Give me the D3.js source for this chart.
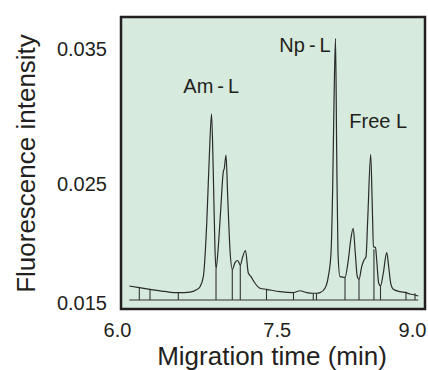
<!DOCTYPE html>
<html>
<head>
<meta charset="utf-8">
<script src="https://cdn.jsdelivr.net/npm/d3@7"></script>
<style>
body { margin: 0; background: #fff; }
svg text { font-family: "Liberation Sans", Arial, Helvetica, sans-serif; }
</style>
</head>
<body>
<svg id="chart" width="428" height="370"></svg>
<script>
// electropherogram trace (time in min, fluorescence intensity)
var times = [6.1155, 6.2095, 6.310, 6.451, 6.576, 6.686, 6.742, 6.780, 6.811, 6.843,
    6.867, 6.888, 6.9045, 6.9205, 6.930, 6.9515, 6.974, 6.9985, 7.0079, 7.0238,
    7.0398, 7.0614, 7.0830, 7.1084, 7.1337, 7.1581, 7.1807, 7.2070, 7.2333, 7.2587,
    7.2962, 7.3432, 7.4042, 7.5366, 7.6862, 7.7250, 7.7583, 7.8326, 7.9057, 7.9412,
    7.9800, 8.0355, 8.0720, 8.1020, 8.1208, 8.1352, 8.1519, 8.1652, 8.1796, 8.2017,
    8.2572, 8.2938, 8.3204, 8.3481, 8.3714, 8.3935, 8.4124, 8.4423, 8.4678, 8.4900,
    8.5088, 8.5421, 8.5598, 8.5731, 8.5953, 8.6086, 8.6308, 8.6507, 8.6818, 8.7195,
    8.7416, 8.7638, 8.7926, 8.8669, 8.9334, 8.9778, 9.0332, 9.0698];
var intensity = [0.01643, 0.01629, 0.01615, 0.01597, 0.01587, 0.01592, 0.01609, 0.01637, 0.01721, 0.02172,
    0.02702, 0.03019, 0.02582, 0.01945, 0.01786, 0.01973, 0.02282, 0.02591, 0.02616, 0.02715,
    0.02393, 0.01945, 0.01783, 0.01839, 0.01857, 0.01819, 0.01889, 0.01941, 0.01752, 0.01721,
    0.01666, 0.01624, 0.01615, 0.01595, 0.01587, 0.01597, 0.01603, 0.01587, 0.01582, 0.01582,
    0.01587, 0.01624, 0.01721, 0.01918, 0.02477, 0.03100, 0.03578, 0.02730, 0.01920, 0.01721,
    0.01716, 0.01861, 0.02029, 0.02128, 0.01918, 0.01721, 0.01699, 0.01805, 0.01861, 0.01889,
    0.02197, 0.02719, 0.02309, 0.01973, 0.01966, 0.01861, 0.01666, 0.01645, 0.01750, 0.01923,
    0.01805, 0.01666, 0.01615, 0.01595, 0.01587, 0.01576, 0.01567, 0.01559];

// peak-window markers dropped to the baseline
var dropTimes = [6.2095, 6.310, 6.576, 6.930, 7.0830, 7.1581, 7.4042, 7.6862,
    7.9057, 7.9412, 8.2572, 8.4124, 8.578, 8.6507, 8.9334, 9.0332];
var dropTops = [0.01629, 0.01615, 0.01587, 0.01786, 0.01783, 0.01819, 0.01615, 0.01587,
    0.01582, 0.01582, 0.01716, 0.01699, 0.01951, 0.01645, 0.01595, 0.01582];
var baselineLevel = 0.01525;

var xTicks = [6.0, 7.5, 9.0];
var yTicks = [0.015, 0.025, 0.035];

var peakNames = ["Am\u2009-\u2009L", "Np\u2009-\u2009L", "Free L"];
var peakLabelTimes = [6.623, 7.529, 8.305];
var peakLabelLevels = [0.03176, 0.0348, 0.02913];

var ink = "#231f20";
var svg = d3.select("#chart");
var box = {left: 121, top: 17, right: 425, bottom: 309};

// the printed tick labels are not evenly spaced, so use piecewise scales
var x = d3.scaleLinear().domain(xTicks).range([117, 276.7, 412]);
var y = d3.scaleLinear().domain(yTicks).range([303, 184, 49]);

svg.append("rect")
    .attr("x", box.left).attr("y", box.top)
    .attr("width", box.right - box.left).attr("height", box.bottom - box.top)
    .attr("fill", "#d6eadd");

// baseline
svg.append("line")
    .attr("x1", x(times[0])).attr("x2", x(times[times.length - 1]))
    .attr("y1", y(baselineLevel)).attr("y2", y(baselineLevel))
    .attr("stroke", "#333").attr("stroke-width", 1.1);

svg.selectAll(".drop")
    .data(dropTimes)
    .enter()
    .append("line")
    .attr("class", "drop")
    .attr("x1", d => x(d)).attr("x2", d => x(d))
    .attr("y1", y(baselineLevel))
    .attr("y2", (d, i) => y(dropTops[i]))
    .attr("stroke", "#333").attr("stroke-width", 1.1);

var line = d3.line()
    .x(d => x(d[0]))
    .y(d => y(d[1]))
    .curve(d3.curveMonotoneX);

svg.append("path")
    .datum(d3.zip(times, intensity))
    .attr("d", line)
    .attr("fill", "none")
    .attr("stroke", "#2b2b2b")
    .attr("stroke-width", 1.2)
    .attr("stroke-linejoin", "round");

// frame on top
svg.append("rect")
    .attr("x", box.left).attr("y", box.top)
    .attr("width", box.right - box.left).attr("height", box.bottom - box.top)
    .attr("fill", "none")
    .attr("stroke", ink).attr("stroke-width", 2.5);

var yAxis = svg.append("g")
    .attr("transform", "translate(" + box.left + ",0)")
    .call(d3.axisLeft(y).tickValues(yTicks).tickSize(0).tickPadding(14).tickFormat(d3.format(".3f")));
yAxis.select(".domain").remove();

var xAxis = svg.append("g")
    .attr("transform", "translate(0," + box.bottom + ")")
    .call(d3.axisBottom(x).tickValues(xTicks).tickSize(0).tickPadding(14).tickFormat(d3.format(".1f")));
xAxis.select(".domain").remove();

svg.selectAll(".tick text")
    .attr("font-size", 20)
    .attr("font-family", "Liberation Sans, Arial, sans-serif")
    .attr("fill", ink);

svg.append("text")
    .attr("x", 272).attr("y", 365)
    .attr("text-anchor", "middle")
    .attr("font-size", 26)
    .attr("fill", ink)
    .text("Migration time (min)");

svg.append("text")
    .attr("transform", "translate(35,163.5) rotate(-90)")
    .attr("text-anchor", "middle")
    .attr("font-size", 26)
    .attr("fill", ink)
    .text("Fluorescence intensity");

svg.selectAll(".peak-label")
    .data(peakNames)
    .enter()
    .append("text")
    .attr("class", "peak-label")
    .attr("x", (d, i) => x(peakLabelTimes[i]))
    .attr("y", (d, i) => y(peakLabelLevels[i]))
    .attr("font-size", 20)
    .attr("fill", ink)
    .text(d => d);
</script>
</body>
</html>
